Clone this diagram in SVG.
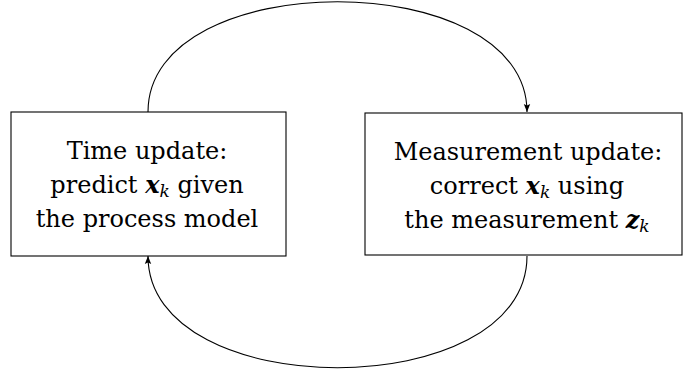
<svg xmlns="http://www.w3.org/2000/svg" width="683" height="376" viewBox="0 0 683 376">
<defs>
<marker id="arr" viewBox="0 0 10 10" refX="10" refY="5" markerWidth="8" markerHeight="8" markerUnits="userSpaceOnUse" orient="auto">
<path d="M0,1 L10,5 L0,9 L2,5 Z" fill="#000"/>
</marker>
<style>
.box{fill:#fff;stroke:#000;stroke-width:1.1}
.t{font-family:"DejaVu Serif","Liberation Serif",serif;font-size:24px;fill:#000;text-anchor:middle}
.m{font-weight:bold;font-style:italic}
.s{font-style:italic;font-size:17px}
.c{fill:none;stroke:#000;stroke-width:1.1}
</style>
</defs>
<g id="connectors">
<path class="c" d="M148,112 C148,-35 527,-35 527,112" marker-end="url(#arr)"/>
<path class="c" d="M527,256 C527,405 148,405 148,256" marker-end="url(#arr)"/>
</g>
<g id="time-update">
<rect class="box" x="11" y="112" width="275" height="144"/>
<text class="t" x="147" y="159">Time update:</text>
<text class="t" x="147" y="193">predict <tspan class="m">x</tspan><tspan class="s" dy="4">k</tspan><tspan dy="-4"> given</tspan></text>
<text class="t" x="147" y="227">the process model</text>
</g>
<g id="measurement-update">
<rect class="box" x="365" y="113" width="317" height="142"/>
<text class="t" x="528" y="160">Measurement update:</text>
<text class="t" x="527" y="194">correct <tspan class="m">x</tspan><tspan class="s" dy="4">k</tspan><tspan dy="-4"> using</tspan></text>
<text class="t" x="527" y="228">the measurement <tspan class="m">z</tspan><tspan class="s" dy="4">k</tspan></text>
</g>
</svg>
